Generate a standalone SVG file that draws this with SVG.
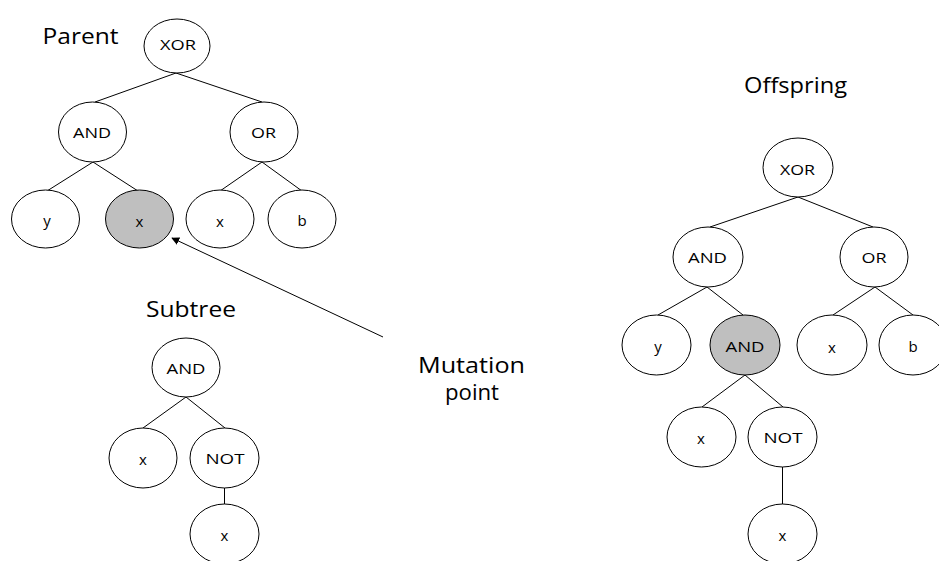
<svg xmlns="http://www.w3.org/2000/svg" width="939" height="561" viewBox="0 0 939 561">
<style>
  .n { fill: #ffffff; stroke: #000000; stroke-width: 1; }
  .hl { fill: #bfbfbf; stroke: #000000; stroke-width: 1; }
  .e { stroke: #000000; stroke-width: 1; fill: none; }
  .lbl { font-family: "Open Sans", "Noto Sans", "Liberation Sans", sans-serif; font-size: 15px; fill: #000000; text-anchor: middle; }
  .title { font-family: "Open Sans", "Noto Sans", "Liberation Sans", sans-serif; font-size: 21px; fill: #000000; }
</style>
<defs>
  <marker id="arrow" viewBox="0 0 10 10" refX="9" refY="5" markerWidth="8" markerHeight="8" markerUnits="userSpaceOnUse" orient="auto">
    <path d="M0,0 L10,5 L0,10 z" fill="#000000"/>
  </marker>
</defs>
<rect width="939" height="561" fill="#ffffff"/>

<!-- titles -->
<text class="title" x="42.5" y="44" textLength="76" lengthAdjust="spacingAndGlyphs">Parent</text>
<text class="title" x="146" y="317" textLength="90" lengthAdjust="spacingAndGlyphs">Subtree</text>
<text class="title" x="744" y="93" textLength="103" lengthAdjust="spacingAndGlyphs">Offspring</text>
<text class="title" x="471.5" y="373" text-anchor="middle" font-size="20" textLength="107" lengthAdjust="spacingAndGlyphs">Mutation</text>
<text class="title" x="472" y="400" text-anchor="middle" font-size="20" textLength="54" lengthAdjust="spacingAndGlyphs">point</text>

<g id="connectors">
  <!-- parent -->
  <line class="e" x1="176" y1="73" x2="95" y2="102"/>
  <line class="e" x1="176" y1="73" x2="262" y2="102"/>
  <line class="e" x1="93" y1="162" x2="47" y2="191"/>
  <line class="e" x1="93" y1="162" x2="138" y2="191"/>
  <line class="e" x1="262" y1="162" x2="220" y2="191"/>
  <line class="e" x1="262" y1="162" x2="302" y2="191"/>
  <!-- subtree -->
  <line class="e" x1="186" y1="397" x2="143" y2="428"/>
  <line class="e" x1="186" y1="397" x2="225" y2="428"/>
  <line class="e" x1="224.5" y1="488" x2="224.5" y2="504"/>
  <!-- offspring -->
  <line class="e" x1="798" y1="197" x2="710" y2="227"/>
  <line class="e" x1="798" y1="197" x2="873" y2="227"/>
  <line class="e" x1="707" y1="287" x2="658" y2="315"/>
  <line class="e" x1="707" y1="287" x2="743" y2="315"/>
  <line class="e" x1="875" y1="287" x2="833" y2="315"/>
  <line class="e" x1="875" y1="287" x2="913" y2="315"/>
  <line class="e" x1="745" y1="375" x2="702" y2="407"/>
  <line class="e" x1="745" y1="375" x2="783" y2="407"/>
  <line class="e" x1="782.5" y1="467" x2="782.5" y2="504"/>
  <!-- mutation arrow -->
  <line class="e" x1="383" y1="337" x2="172" y2="238" marker-end="url(#arrow)"/>
</g>

<!-- Parent tree -->
<g id="p-xor"><ellipse class="n" cx="177" cy="46" rx="33" ry="27"/><text class="lbl" x="178" y="50" textLength="36" lengthAdjust="spacingAndGlyphs">XOR</text></g>
<g id="p-and"><ellipse class="n" cx="92.5" cy="132" rx="34" ry="30"/><text class="lbl" x="92" y="138" textLength="38" lengthAdjust="spacingAndGlyphs">AND</text></g>
<g id="p-or"><ellipse class="n" cx="264" cy="132" rx="34" ry="30"/><text class="lbl" x="263.5" y="138" textLength="25" lengthAdjust="spacingAndGlyphs">OR</text></g>
<g id="p-y"><ellipse class="n" cx="45.5" cy="219" rx="34" ry="29"/><text class="lbl" x="47" y="226">y</text></g>
<g id="p-x1"><ellipse class="hl" cx="139.5" cy="219" rx="34" ry="29"/><text class="lbl" x="139.5" y="227">x</text></g>
<g id="p-x2"><ellipse class="n" cx="220" cy="219" rx="34" ry="29"/><text class="lbl" x="220" y="227">x</text></g>
<g id="p-b"><ellipse class="n" cx="302" cy="219" rx="34" ry="29"/><text class="lbl" x="302" y="226">b</text></g>

<!-- Subtree -->
<g id="s-and"><ellipse class="n" cx="186" cy="367.5" rx="34" ry="29.5"/><text class="lbl" x="186" y="374" textLength="39" lengthAdjust="spacingAndGlyphs">AND</text></g>
<g id="s-x"><ellipse class="n" cx="143" cy="458" rx="34" ry="30"/><text class="lbl" x="143" y="465">x</text></g>
<g id="s-not"><ellipse class="n" cx="224.5" cy="458" rx="34.5" ry="30"/><text class="lbl" x="225" y="464" textLength="39" lengthAdjust="spacingAndGlyphs">NOT</text></g>
<g id="s-x2"><ellipse class="n" cx="224.5" cy="534" rx="34.5" ry="30"/><text class="lbl" x="224.5" y="541">x</text></g>

<!-- Offspring tree -->
<g id="o-xor"><ellipse class="n" cx="798" cy="167.5" rx="35" ry="29.5"/><text class="lbl" x="797.5" y="175" textLength="35" lengthAdjust="spacingAndGlyphs">XOR</text></g>
<g id="o-and"><ellipse class="n" cx="708" cy="257" rx="35" ry="30"/><text class="lbl" x="707.5" y="263" textLength="39" lengthAdjust="spacingAndGlyphs">AND</text></g>
<g id="o-or"><ellipse class="n" cx="874" cy="257" rx="34" ry="30"/><text class="lbl" x="874" y="263" textLength="25" lengthAdjust="spacingAndGlyphs">OR</text></g>
<g id="o-y"><ellipse class="n" cx="656.5" cy="345" rx="34.5" ry="30"/><text class="lbl" x="658" y="352">y</text></g>
<g id="o-and2"><ellipse class="hl" cx="745" cy="345" rx="35" ry="30"/><text class="lbl" x="745" y="352" textLength="39" lengthAdjust="spacingAndGlyphs">AND</text></g>
<g id="o-x"><ellipse class="n" cx="832" cy="345" rx="35" ry="30"/><text class="lbl" x="832" y="353">x</text></g>
<g id="o-b"><ellipse class="n" cx="913" cy="345" rx="34" ry="30"/><text class="lbl" x="913" y="352">b</text></g>
<g id="o-x2"><ellipse class="n" cx="701.5" cy="437" rx="34.5" ry="30"/><text class="lbl" x="701" y="444">x</text></g>
<g id="o-not"><ellipse class="n" cx="782.5" cy="437" rx="34.5" ry="30"/><text class="lbl" x="783" y="443" textLength="39" lengthAdjust="spacingAndGlyphs">NOT</text></g>
<g id="o-x3"><ellipse class="n" cx="782.5" cy="534" rx="34.5" ry="30"/><text class="lbl" x="782.5" y="541">x</text></g>
</svg>
